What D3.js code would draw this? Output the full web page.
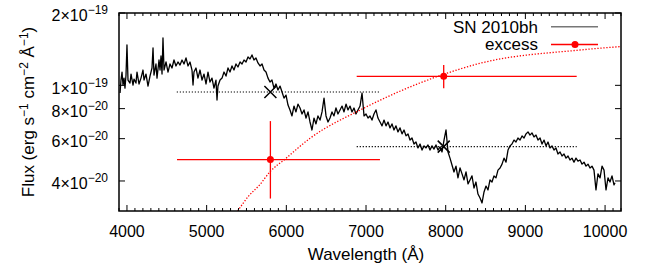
<!DOCTYPE html>
<html><head><meta charset="utf-8">
<script src="https://cdn.jsdelivr.net/npm/d3@7"></script>
<style>body{margin:0;background:#fff}svg{display:block}text{font-family:"Liberation Sans",Arial,sans-serif;fill:#000}</style>
</head><body><svg id="c" width="653" height="271"></svg>
<script>
// Spectrum of SN 2010bh: wavelength (Å) and flux (units of 1e-20 erg/s/cm2/Å)
const specWave = [3913,3925,3938,3950,3963,3975,3988,4000,4013,4038,4051,4076,4088,4113,4126,4151,4176,4201,4214,4239,4264,4289,4314,4327,4339,4364,4377,4402,4415,4427,4440,4452,4465,4490,4515,4540,4565,4590,4615,4640,4666,4691,4716,4741,4766,4791,4816,4829,4841,4866,4891,4917,4942,4967,4992,5017,5042,5067,5092,5117,5130,5142,5168,5193,5218,5243,5268,5293,5318,5343,5368,5393,5419,5444,5469,5494,5519,5544,5569,5594,5619,5644,5670,5695,5720,5745,5770,5795,5820,5845,5870,5895,5921,5946,5971,5996,6021,6046,6071,6096,6121,6146,6172,6197,6222,6247,6272,6297,6322,6347,6372,6397,6423,6448,6473,6498,6523,6548,6573,6598,6623,6648,6674,6699,6724,6749,6774,6799,6824,6849,6874,6899,6925,6950,6975,7000,7025,7050,7075,7100,7125,7150,7176,7201,7226,7251,7276,7301,7326,7351,7376,7401,7427,7452,7477,7502,7527,7552,7577,7602,7627,7652,7678,7703,7728,7753,7778,7803,7828,7853,7878,7903,7929,7954,7979,8004,8029,8054,8079,8104,8129,8154,8180,8205,8230,8255,8280,8305,8330,8355,8380,8405,8431,8456,8481,8506,8531,8556,8581,8606,8631,8656,8682,8707,8732,8757,8782,8807,8832,8857,8882,8907,8933,8958,8983,9008,9033,9058,9083,9108,9133,9158,9184,9209,9234,9259,9284,9309,9334,9359,9384,9409,9435,9460,9485,9510,9535,9560,9585,9610,9635,9660,9686,9711,9736,9761,9786,9811,9836,9861,9886,9911,9937,9962,9987,10012,10037,10062,10087,10112,10125];
const specFlux = [9.29,10.52,11.36,10.03,10.72,9.74,11.04,14.72,10.52,10.22,11.14,10.03,10.62,10.22,11.36,10.13,10.72,11.58,10.52,11.14,9.93,10.93,11.81,14.30,11.04,12.27,10.72,12.75,11.58,13.25,11.14,15.74,11.58,12.51,11.36,12.27,11.81,12.75,12.04,12.51,12.15,12.75,12.27,13.00,12.04,12.51,11.58,10.03,11.36,11.81,10.72,11.58,10.52,11.14,10.13,11.36,10.32,10.72,9.74,10.52,8.69,9.93,10.52,10.72,11.36,10.93,11.81,11.36,12.04,11.58,12.27,11.92,12.51,12.27,12.75,12.51,13.13,12.88,13.38,12.75,13.00,12.39,12.04,12.27,11.58,11.36,10.72,10.32,10.52,9.74,10.13,9.56,9.93,9.38,8.85,9.11,8.28,7.90,7.46,8.20,7.75,8.36,8.05,7.60,7.90,7.31,7.75,7.04,6.52,7.31,6.91,7.46,7.17,7.75,8.85,7.46,7.04,7.31,7.75,7.46,8.05,7.60,7.90,8.20,7.75,8.36,7.90,8.20,7.75,8.05,7.60,7.90,8.20,9.29,7.46,7.60,7.31,7.46,7.17,7.60,7.90,7.31,7.04,6.78,7.17,6.78,7.04,6.65,6.91,6.52,6.78,6.40,6.65,6.28,6.52,6.16,6.28,5.92,6.04,5.70,5.81,5.49,5.70,5.38,5.60,5.49,5.65,5.38,5.60,5.43,5.65,5.38,5.54,5.28,5.92,6.52,5.28,4.98,4.66,4.36,4.61,4.12,4.53,4.28,4.04,4.36,3.89,4.04,4.20,3.74,3.96,3.53,3.40,3.24,3.60,3.81,3.67,4.04,3.96,4.20,4.12,4.44,4.53,4.70,4.98,4.79,5.38,5.60,5.70,5.92,5.81,6.04,5.92,6.16,6.04,6.28,6.40,6.21,6.34,6.10,6.21,5.92,6.04,5.70,5.92,5.60,5.81,5.49,5.60,5.38,5.49,5.18,5.28,5.08,5.18,4.98,5.08,4.89,4.98,4.79,4.98,4.84,4.89,4.70,4.79,4.61,4.70,4.53,4.61,4.44,3.67,4.28,4.12,4.61,4.44,3.67,4.12,3.96,4.20,3.85,3.93];

// Excess points with error bars
const excessWave = [5800, 7975];
const excessFlux = [4.91, 10.9];
const excessWaveLo = [4628, 6883];
const excessWaveHi = [7175, 9644];
const excessFluxLo = [3.38, 9.72];
const excessFluxHi = [7.10, 12.15];

// Continuum flux markers (x) with dotted wavelength ranges
const contWave = [5800, 7975];
const contFlux = [9.38, 5.56];
const contWaveLo = [4625, 6883];
const contWaveHi = [7175, 9644];

// Fitted curve (red dotted)
const curveWave = [5390, 5523, 5670, 5795, 5983, 6297, 6925, 7887, 8431, 9686, 10200];
const curveFlux = [3.0, 3.45, 3.87, 4.37, 4.93, 6.02, 7.89, 10.86, 12.35, 14.03, 14.50];

// Axis ticks
const xTicks = [4000, 5000, 6000, 7000, 8000, 9000, 10000];
const yTicks = [4, 6, 8, 10, 20];
const yTickMant = ["4", "6", "8", "1", "2"];
const yTickExp = ["−20", "−20", "−20", "−19", "−19"];

const svg = d3.select("#c");
const L = 119, R = 621, T = 13, B = 211;
const x = d3.scaleLinear().domain([3900, 10200]).range([L, R]);
const y = d3.scaleLog().domain([3, 20]).range([B, T]);

svg.append("clipPath").attr("id","clip").append("rect").attr("x",L).attr("y",T).attr("width",R-L).attr("height",B-T);
const g = svg.append("g").attr("clip-path","url(#clip)");

// spectrum
const spec = specWave.map((w,i)=>[w, specFlux[i]]);
g.append("path").datum(spec).attr("fill","none").attr("stroke","#000").attr("stroke-width",1.3)
  .attr("stroke-linejoin","round")
  .attr("d", d3.line().x(d=>x(d[0])).y(d=>y(d[1])));

// fitted curve
const cur = curveWave.map((w,i)=>[w, curveFlux[i]]);
g.append("path").datum(cur).attr("fill","none").attr("stroke","#ff0000").attr("stroke-width",1.3)
  .attr("stroke-dasharray","1.3,1.7")
  .attr("d", d3.line().curve(d3.curveMonotoneX).x(d=>x(d[0])).y(d=>y(d[1])));

// continuum dotted ranges and x markers
contWave.forEach((w,i)=>{
  g.append("line").attr("x1",x(contWaveLo[i])).attr("x2",x(contWaveHi[i]))
    .attr("y1",y(contFlux[i])).attr("y2",y(contFlux[i]))
    .attr("stroke","#000").attr("stroke-width",1.2).attr("stroke-dasharray","1.2,1.8");
  const cx = x(w), cy = y(contFlux[i]), s = 6;
  g.append("path").attr("d",`M${cx-s},${cy-s}L${cx+s},${cy+s}M${cx-s},${cy+s}L${cx+s},${cy-s}`)
    .attr("stroke","#000").attr("stroke-width",1.5);
});

// excess error bars
excessWave.forEach((w,i)=>{
  g.append("line").attr("x1",x(excessWaveLo[i])).attr("x2",x(excessWaveHi[i]))
    .attr("y1",y(excessFlux[i])).attr("y2",y(excessFlux[i]))
    .attr("stroke","#ff0000").attr("stroke-width",1.3);
  g.append("line").attr("x1",x(w)).attr("x2",x(w))
    .attr("y1",y(excessFluxLo[i])).attr("y2",y(excessFluxHi[i]))
    .attr("stroke","#ff0000").attr("stroke-width",1.3);
  g.append("circle").attr("cx",x(w)).attr("cy",y(excessFlux[i])).attr("r",3.5).attr("fill","#ff0000");
});

// frame
svg.append("rect").attr("x",L).attr("y",T).attr("width",R-L).attr("height",B-T)
  .attr("fill","none").attr("stroke","#000").attr("stroke-width",1.5);

// x ticks (major + minor, bottom and top)
const minor = d3.range(3900, 10201, 100);
minor.forEach(v=>{
  const major = v % 1000 === 0;
  const len = major ? 6 : 3;
  svg.append("line").attr("x1",x(v)).attr("x2",x(v)).attr("y1",B).attr("y2",B-len).attr("stroke","#000").attr("stroke-width",1);
  svg.append("line").attr("x1",x(v)).attr("x2",x(v)).attr("y1",T).attr("y2",T+len).attr("stroke","#000").attr("stroke-width",1);
});
xTicks.forEach(v=>{
  svg.append("text").attr("x",x(v)).attr("y",236.5).attr("text-anchor","middle").attr("font-size",16).text(v);
});

// y ticks
yTicks.forEach((v,i)=>{
  const yy = y(v);
  svg.append("line").attr("x1",L).attr("x2",L+6).attr("y1",yy).attr("y2",yy).attr("stroke","#000").attr("stroke-width",1);
  svg.append("line").attr("x1",R).attr("x2",R-6).attr("y1",yy).attr("y2",yy).attr("stroke","#000").attr("stroke-width",1);
  const t = svg.append("text").attr("x",108).attr("y",yy+8.3).attr("text-anchor","end").attr("font-size",16);
  t.append("tspan").text(yTickMant[i] + "×10");
  t.append("tspan").attr("dy",-7).attr("font-size",12).text(yTickExp[i]);
});

// axis labels
svg.append("text").attr("x",366).attr("y",260).attr("text-anchor","middle").attr("font-size",17).text("Wavelength (Å)");
const yl = svg.append("text").attr("transform","translate(33.5,112) rotate(-90)").attr("text-anchor","middle").attr("font-size",17);
yl.append("tspan").text("Flux (erg s");
yl.append("tspan").attr("dy",-6).attr("font-size",12).text("−1");
yl.append("tspan").attr("dy",6).text(" cm");
yl.append("tspan").attr("dy",-6).attr("font-size",12).text("−2");
yl.append("tspan").attr("dy",6).text(" Å");
yl.append("tspan").attr("dy",-6).attr("font-size",12).text("−1");
yl.append("tspan").attr("dy",6).text(")");

// legend
svg.append("text").attr("x",538).attr("y",32.5).attr("text-anchor","end").attr("font-size",17).text("SN 2010bh");
svg.append("line").attr("x1",551).attr("x2",598).attr("y1",26.7).attr("y2",26.7).attr("stroke","#777").attr("stroke-width",1.5);
svg.append("text").attr("x",538).attr("y",50).attr("text-anchor","end").attr("font-size",17).text("excess");
svg.append("line").attr("x1",551).attr("x2",598).attr("y1",44.5).attr("y2",44.5).attr("stroke","#ff0000").attr("stroke-width",1.3);
svg.append("circle").attr("cx",575).attr("cy",44.5).attr("r",3.5).attr("fill","#ff0000");
</script></body></html>
